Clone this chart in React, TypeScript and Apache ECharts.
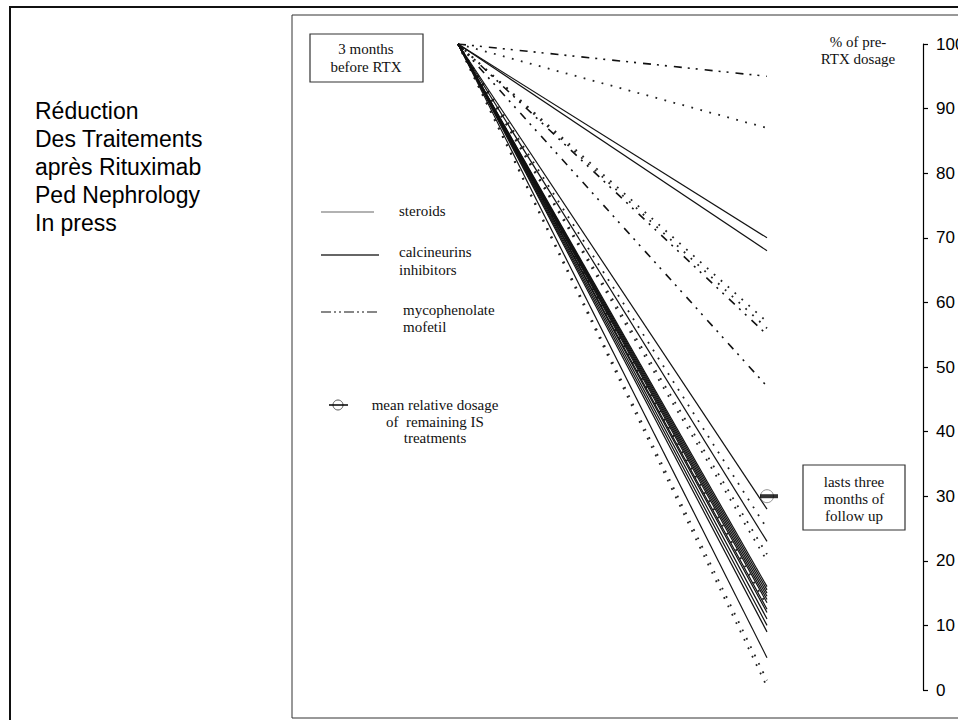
import React, { useEffect, useRef } from "react";
import * as echarts from "echarts";

// Two time points: 3 months before RTX (x = 0) and last 3 months of follow-up (x = 1)
const timePoints = [0, 1];
const startPercent = 100;

// Relative dosage (% of pre-RTX dosage) at the end of follow-up, per patient line
const steroidEnds = [87, 57, 56, 25, 21, 20, 13, 1.5, 0.5];
const calcineurinEnds = [70, 68, 28, 23, 16, 15.5, 15, 14.5, 14, 13.5, 12.5, 12, 11, 10, 9, 5];
const mycophenolateEnds = [95, 55, 47];

// Mean relative dosage of remaining IS treatments
const meanRemaining = 30;

const yTicks = [0, 10, 20, 30, 40, 50, 60, 70, 80, 90, 100];

const SERIF = '"Liberation Serif", "Times New Roman", serif';
const SANS = '"Liberation Sans", Arial, sans-serif';

function lineSeries(ends: number[], style: any) {
  return ends.map((end) => ({
    type: "line",
    data: [
      [timePoints[0], startPercent],
      [timePoints[1], end],
    ],
    symbol: "none",
    silent: true,
    lineStyle: style,
  }));
}

export default function App() {
  const ref = useRef<HTMLDivElement>(null);

  useEffect(() => {
    if (!ref.current) return;
    const chart = echarts.init(ref.current, undefined, { renderer: "svg" });

    const serifText = (x: number, y: number, text: string, align = "left", lineHeight = 17) => ({
      type: "text",
      x,
      y,
      silent: true,
      style: {
        text,
        font: `15px ${SERIF}`,
        fill: "#111",
        align,
        verticalAlign: "middle",
        lineHeight,
      },
    });

    const option: any = {
      animation: false,
      backgroundColor: "#fff",
      grid: {
        left: 458,
        right: 191,
        top: 44,
        bottom: 30,
        containLabel: false,
        outerBoundsMode: "none",
      },
      xAxis: { type: "value", min: 0, max: 1, show: false },
      yAxis: {
        type: "value",
        min: yTicks[0],
        max: yTicks[yTicks.length - 1],
        interval: 10,
        position: "right",
        offset: 156,
        axisLine: { show: true, onZero: false, lineStyle: { color: "#000", width: 1.2 } },
        axisTick: { show: true, inside: false, length: 5, lineStyle: { color: "#000", width: 1.2 } },
        axisLabel: { color: "#000", fontSize: 17, fontFamily: SANS, margin: 13 },
        splitLine: { show: false },
      },
      series: [
        ...lineSeries(steroidEnds, { color: "#222", width: 1.8, type: [1.8, 7.5] }),
        ...lineSeries(calcineurinEnds, { color: "#111", width: 1.2 }),
        ...lineSeries(mycophenolateEnds, { color: "#111", width: 1.6, type: [8, 6, 2, 6, 2, 7] }),
        {
          type: "scatter",
          data: [[timePoints[1], meanRemaining]],
          symbol: "circle",
          symbolSize: 13,
          silent: true,
          itemStyle: { color: "rgba(0,0,0,0)", borderColor: "#777", borderWidth: 1 },
          z: 5,
        },
        {
          type: "scatter",
          data: [[timePoints[1], meanRemaining]],
          symbol: "rect",
          symbolSize: [18, 4],
          symbolOffset: [2, 0],
          silent: true,
          itemStyle: { color: "#000" },
          z: 6,
        },
      ],
      graphic: [
        // outer frame
        {
          type: "rect",
          silent: true,
          shape: { x: 10, y: 7, width: 1000, height: 800 },
          style: { fill: "none", stroke: "#111", lineWidth: 2 },
        },
        // plot frame
        {
          type: "rect",
          silent: true,
          shape: { x: 292, y: 15, width: 800, height: 703 },
          style: { fill: "none", stroke: "#333", lineWidth: 1 },
        },
        // title block
        {
          type: "text",
          x: 35,
          y: 97,
          silent: true,
          style: {
            text: "Réduction\nDes Traitements\naprès Rituximab\nPed Nephrology\nIn press",
            font: `23px ${SANS}`,
            fill: "#000",
            align: "left",
            verticalAlign: "top",
            lineHeight: 28,
          },
        },
        // "3 months before RTX" box
        {
          type: "rect",
          silent: true,
          shape: { x: 310, y: 34, width: 113, height: 48 },
          style: { fill: "#fff", stroke: "#333", lineWidth: 1.2 },
        },
        serifText(366, 58, "3 months\nbefore RTX", "center", 18),
        // axis title
        serifText(858, 50, "% of pre-\nRTX dosage", "center", 17),
        // legend
        {
          type: "line",
          silent: true,
          shape: { x1: 321, y1: 212, x2: 374, y2: 212 },
          style: { stroke: "#999", lineWidth: 1.5 },
        },
        serifText(399, 211, "steroids"),
        {
          type: "line",
          silent: true,
          shape: { x1: 321, y1: 255, x2: 379, y2: 255 },
          style: { stroke: "#333", lineWidth: 1.5 },
        },
        serifText(399, 261, "calcineurins\ninhibitors", "left", 18),
        {
          type: "line",
          silent: true,
          shape: { x1: 321, y1: 312, x2: 379, y2: 312 },
          style: { stroke: "#111", lineWidth: 1.2, lineDash: [10, 3, 2, 3, 2, 3] },
        },
        serifText(403, 318.5, "mycophenolate\nmofetil", "left", 17),
        {
          type: "circle",
          silent: true,
          shape: { cx: 338, cy: 405, r: 5 },
          style: { fill: "none", stroke: "#555", lineWidth: 1 },
        },
        {
          type: "line",
          silent: true,
          shape: { x1: 329, y1: 405, x2: 348, y2: 405 },
          style: { stroke: "#000", lineWidth: 1.5 },
        },
        serifText(435, 421.5, "mean relative dosage\nof  remaining IS\ntreatments", "center", 16.5),
        // "lasts three months of follow up" box
        {
          type: "rect",
          silent: true,
          shape: { x: 803, y: 465, width: 102, height: 65 },
          style: { fill: "#fff", stroke: "#333", lineWidth: 1.2 },
        },
        serifText(854, 499, "lasts three\nmonths of\nfollow up", "center", 17),
      ],
    };

    chart.setOption(option);
    return () => chart.dispose();
  }, []);

  return (
    <div
      ref={ref}
      style={{ position: "absolute", left: 0, top: 0, width: 958, height: 720, background: "#fff" }}
    />
  );
}
